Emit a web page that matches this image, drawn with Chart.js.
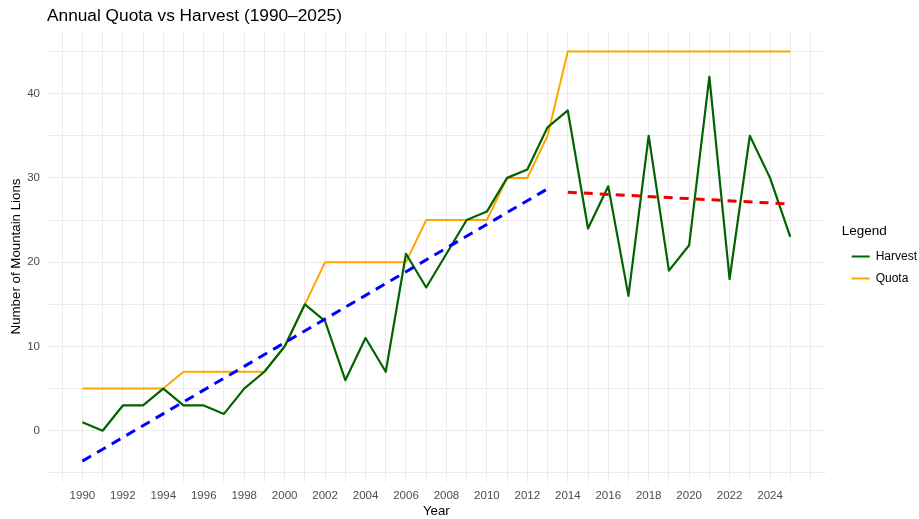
<!DOCTYPE html>
<html>
<head>
<meta charset="utf-8">
<script src="https://cdn.jsdelivr.net/npm/chart.js@4"></script>
<style>
  html, body { margin: 0; padding: 0; background: #fff; }
  #wrap { width: 919px; height: 519px; }
</style>
</head>
<body>
<div id="wrap"><canvas id="quota-chart"></canvas></div>
<script>
const years = [1990, 1991, 1992, 1993, 1994, 1995, 1996, 1997, 1998, 1999,
  2000, 2001, 2002, 2003, 2004, 2005, 2006, 2007, 2008, 2009,
  2010, 2011, 2012, 2013, 2014, 2015, 2016, 2017, 2018, 2019,
  2020, 2021, 2022, 2023, 2024, 2025];
const harvest = [1, 0, 3, 3, 5, 3, 3, 2, 5, 7,
  10, 15, 13, 6, 11, 7, 21, 17, 21, 25,
  26, 30, 31, 36, 38, 24, 29, 16, 35, 19,
  22, 42, 18, 35, 30, 23];
const quota = [5, 5, 5, 5, 5, 7, 7, 7, 7, 7,
  10, 15, 20, 20, 20, 20, 20, 25, 25, 25,
  25, 30, 30, 35, 45, 45, 45, 45, 45, 45,
  45, 45, 45, 45, 45, 45];

// trend lines (start / end)
const trendEarlyYears = [1990, 2013];
const trendEarly = [-3.6, 28.7];
const trendLateYears = [2014, 2025];
const trendLate = [28.3, 26.9];

// labelled ticks (the other grid lines stay unlabelled)
const xTickLabels = [1990, 1992, 1994, 1996, 1998, 2000, 2002, 2004, 2006,
  2008, 2010, 2012, 2014, 2016, 2018, 2020, 2022, 2024];
const yTickLabels = [0, 10, 20, 30, 40];

const font = '"Liberation Sans", Arial, sans-serif';
const gridColor = '#ebebeb';

const toPoints = (xs, ys) => xs.map((x, i) => ({ x: x, y: ys[i] }));

const chartCanvas = document.getElementById('quota-chart');

let quotaChart = new Chart(chartCanvas, {
    type: 'line',
    data: {
        datasets: [
            {
                label: 'Trend 1990-2013',
                data: toPoints(trendEarlyYears, trendEarly),
                borderColor: '#0000ff',
                borderWidth: 3,
                borderDash: [10, 7],
                pointRadius: 0
            },
            {
                label: 'Trend 2014-2025',
                data: toPoints(trendLateYears, trendLate),
                borderColor: '#ee0000',
                borderWidth: 3,
                borderDash: [9, 7],
                pointRadius: 0
            },
            {
                label: 'Harvest',
                data: toPoints(years, harvest),
                borderColor: '#006400',
                backgroundColor: '#006400',
                borderWidth: 2.2,
                borderJoinStyle: 'round',
                pointRadius: 0
            },
            {
                label: 'Quota',
                data: toPoints(years, quota),
                borderColor: '#ffa500',
                backgroundColor: '#ffa500',
                borderWidth: 2,
                borderJoinStyle: 'round',
                pointRadius: 0
            }
        ]
    },
    options: {
        responsive: true,
        maintainAspectRatio: false,
        animation: false,
        layout: { padding: { left: 0, top: 0, bottom: 0, right: -8 } },
        scales: {
            x: {
                type: 'linear',
                min: 1988.25,
                max: 2026.75,
                grid: { color: gridColor, drawTicks: false },
                border: { display: false },
                ticks: {
                    stepSize: 1,
                    includeBounds: false,
                    autoSkip: false,
                    maxRotation: 0,
                    padding: 7,
                    color: '#4d4d4d',
                    font: { family: font, size: 11.5 },
                    callback: v => (xTickLabels.includes(v) ? String(v) : '')
                },
                title: {
                    display: true,
                    text: 'Year',
                    color: '#000',
                    padding: { top: 0, bottom: 0 },
                    font: { family: font, size: 13.3 }
                },
                afterFit: s => { s.height = 37; }
            },
            y: {
                min: -6.08,
                max: 47.43,
                grid: { color: gridColor, drawTicks: false },
                border: { display: false },
                ticks: {
                    stepSize: 5,
                    includeBounds: false,
                    autoSkip: false,
                    padding: 7,
                    color: '#4d4d4d',
                    font: { family: font, size: 11.5 },
                    callback: v => (yTickLabels.includes(v) ? String(v) : '')
                },
                title: {
                    display: true,
                    text: 'Number of Mountain Lions',
                    color: '#000',
                    padding: { top: 8, bottom: 0 },
                    font: { family: font, size: 13.3 }
                },
                afterFit: s => { s.width = 47; }
            },
            // empty axis, only keeps a gap between the panel and the legend
            gap: {
                type: 'linear',
                position: 'right',
                grid: { display: false },
                border: { display: false },
                ticks: { display: false },
                afterFit: s => { s.width = 16; }
            }
        },
        plugins: {
            title: {
                display: true,
                text: 'Annual Quota vs Harvest (1990\u20132025)',
                align: 'start',
                fullSize: false,
                color: '#000',
                padding: { top: 5.6, bottom: 4.6 },
                font: { family: font, size: 17.3, weight: 'normal' }
            },
            legend: {
                position: 'right',
                title: {
                    display: true,
                    text: 'Legend',
                    position: 'start',
                    color: '#000',
                    font: { family: font, size: 13.5 }
                },
                labels: {
                    boxWidth: 18,
                    boxHeight: 2,
                    padding: 10,
                    color: '#000',
                    font: { family: font, size: 12 },
                    filter: item => item.text === 'Harvest' || item.text === 'Quota',
                    generateLabels: chart => Chart.defaults.plugins.legend.labels.generateLabels(chart)
                        .map(item => Object.assign(item, { lineWidth: 0, fillStyle: item.strokeStyle, lineDash: [] }))
                }
            },
            tooltip: { enabled: false }
        }
    }
});
</script>
</body>
</html>
